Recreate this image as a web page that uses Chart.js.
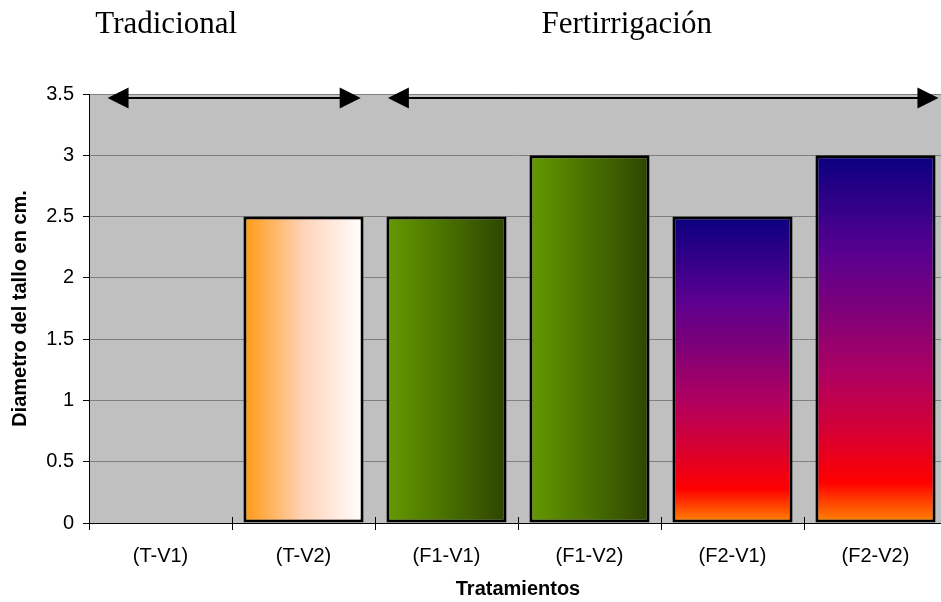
<!DOCTYPE html>
<html><head><meta charset="utf-8">
<script src="https://cdn.jsdelivr.net/npm/chart.js@4/dist/chart.umd.min.js"></script>
<style>
html,body{margin:0;padding:0;background:#fff;overflow:hidden;width:941px;height:602px}
#wrap{width:960px;height:602px;position:relative}
canvas{display:block}
</style>
</head><body><div id="wrap"><canvas id="c" width="960" height="602"></canvas></div>
<script>
// ---- data ----
const categories = ['(T-V1)', '(T-V2)', '(F1-V1)', '(F1-V2)', '(F2-V1)', '(F2-V2)'];
const diametro = [0, 2.5, 2.5, 3, 2.5, 3];
const yTicks = [0, 0.5, 1, 1.5, 2, 2.5, 3, 3.5];
const groupNames = ['Tradicional', 'Fertirrigación'];
const groupFrom = [-0.37, 1.59];   // arrow span, in category units
const groupTo = [1.40, 5.44];
const groupLabelAt = [0.04, 3.26];

// ---- styles ----
const barFill = ['orange', 'orange', 'green', 'green', 'fire', 'fire'];
const gradients = {
  orange: {dir: 'h', stops: [[0, '#FF9912'], [0.5, '#FFD3B8'], [1, '#FFFFFF']]},
  green: {dir: 'h', stops: [[0, '#659A00'], [1, '#2D4500']]},
  fire: {dir: 'v', stops: [[0, '#0A0080'], [0.27, '#5A0090'], [0.43, '#800078'], [0.6, '#B00060'], [0.76, '#D80030'], [0.89, '#FF0000'], [1, '#FF8800']]}
};
const BAR_PCT = 0.84;

function fillFor(ctx) {
  const chart = ctx.chart;
  const xs = chart.scales.x, ys = chart.scales.y;
  if (!xs || !ys || ctx.dataIndex === undefined || !chart.chartArea) return '#888';
  const i = ctx.dataIndex;
  const g = gradients[barFill[i]];
  const cx = xs.getPixelForValue(i);
  const step = xs.getPixelForValue(1) - xs.getPixelForValue(0);
  const half = step * BAR_PCT / 2;
  let grad;
  if (g.dir === 'h') {
    grad = chart.ctx.createLinearGradient(cx - half, 0, cx + half, 0);
  } else {
    const top = ys.getPixelForValue(diametro[i]);
    const base = ys.getPixelForValue(0);
    grad = chart.ctx.createLinearGradient(0, top, 0, base);
  }
  g.stops.forEach(s => grad.addColorStop(s[0], s[1]));
  return grad;
}

const bgPlugin = {
  id: 'bg',
  beforeDraw(chart) {
    const a = chart.chartArea, c = chart.ctx;
    c.save();
    c.fillStyle = '#C0C0C0';
    c.fillRect(a.left, a.top, a.right - a.left, a.bottom - a.top);
    c.restore();
  }
};

const annoPlugin = {
  id: 'anno',
  afterDraw(chart) {
    const c = chart.ctx, xs = chart.scales.x, ys = chart.scales.y;
    const x0 = xs.getPixelForValue(0);
    const step = xs.getPixelForValue(1) - x0;
    const px = v => x0 + v * step;
    c.save();
    // inner part of x tick marks (cross style)
    c.strokeStyle = '#000'; c.lineWidth = 1;
    const base = ys.getPixelForValue(0);
    for (let i = 0; i <= categories.length; i++) {
      const x = Math.round(px(i - 0.5)) + 0.5;
      c.beginPath(); c.moveTo(x, base - 6); c.lineTo(x, base); c.stroke();
    }
    // arrows
    const y = ys.getPixelForValue(3.5) + 4;
    c.fillStyle = '#000';
    for (let g = 0; g < groupNames.length; g++) {
      const a = px(groupFrom[g]), b = px(groupTo[g]);
      c.lineWidth = 2;
      c.beginPath(); c.moveTo(a + 10, y); c.lineTo(b - 10, y); c.stroke();
      c.beginPath(); c.moveTo(a, y); c.lineTo(a + 21, y - 10.5); c.lineTo(a + 21, y + 10.5); c.closePath(); c.fill();
      c.beginPath(); c.moveTo(b, y); c.lineTo(b - 21, y - 10.5); c.lineTo(b - 21, y + 10.5); c.closePath(); c.fill();
    }
    // group titles
    c.font = '31px "Liberation Serif", "Times New Roman", serif';
    c.textAlign = 'center'; c.textBaseline = 'alphabetic';
    for (let g = 0; g < groupNames.length; g++) {
      c.fillText(groupNames[g], px(groupLabelAt[g]), 33);
    }
    c.restore();
  }
};

const sans = '"Liberation Sans", Arial, sans-serif';

new Chart(document.getElementById('c'), {
  type: 'bar',
  data: {
    labels: categories,
    datasets: [{
      data: diametro,
      backgroundColor: fillFor,
      borderColor: '#000',
      borderWidth: 3,
      borderSkipped: false,
      barPercentage: BAR_PCT,
      categoryPercentage: 1
    }]
  },
  options: {
    responsive: false,
    animation: false,
    devicePixelRatio: 1,
    layout: {padding: {top: 94, right: 13, left: 0, bottom: 0}},
    plugins: {legend: {display: false}, tooltip: {enabled: false}},
    scales: {
      x: {
        grid: {display: true, drawOnChartArea: false, offset: true, tickLength: 7, tickColor: '#000', color: '#000'},
        border: {color: '#000', width: 1},
        ticks: {font: {family: sans, size: 20}, color: '#000', padding: 14, maxRotation: 0, autoSkip: false},
        title: {display: true, text: 'Tratamientos', color: '#000', font: {family: sans, size: 20, weight: 'bold'}, padding: {top: 0, bottom: 1}},
        afterFit(s) { s.height = 79; }
      },
      y: {
        min: 0, max: 3.5,
        afterBuildTicks(s) { s.ticks = yTicks.map(v => ({value: v})); },
        ticks: {font: {family: sans, size: 20}, color: '#000', padding: 9, callback: v => String(v)},
        grid: {color: '#808080', tickColor: '#000', tickLength: 6},
        border: {color: '#000', width: 1},
        title: {display: true, text: 'Diametro del tallo en cm.', color: '#000', font: {family: sans, size: 20, weight: 'bold'}, padding: {top: 8, bottom: 0}},
        afterFit(s) { s.width = 89; }
      }
    }
  },
  plugins: [bgPlugin, annoPlugin]
});
</script>
</body></html>
